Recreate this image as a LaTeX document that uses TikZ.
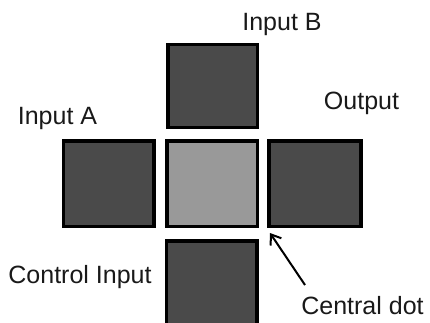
\documentclass[tikz,border=0pt]{standalone}
\usepackage{fontspec}
\setmainfont{Liberation Sans}
\usetikzlibrary{arrows.meta}
\definecolor{darkfill}{HTML}{4A4A4A}
\definecolor{lightfill}{HTML}{999999}
\tikzset{
  cell/.style={draw=black, line width=3.5pt, inner sep=0pt, outer sep=0pt,
    minimum width=90.5pt, minimum height=85.5pt, fill=darkfill},
  centercell/.style={cell, fill=lightfill},
  lbl/.style={inner sep=0pt, font=\fontsize{25}{29}\selectfont, text=black!90},
  pointer/.style={line width=2pt, -{Straight Barb[length=9pt,width=13pt,line width=2pt]}}
}
\begin{document}
\begin{tikzpicture}[x=1pt,y=1pt]
\useasboundingbox (0,0) rectangle (430,322);
\begin{scope}
\clip (0,0) rectangle (430,322);
\node[cell, minimum width=89.5pt, minimum height=82.5pt] (top) at (212.5,236) {};
\node[cell] (left) at (108.5,138.5) {};
\node[centercell] (center) at (212,138.5) {};
\node[cell, minimum width=92pt] (right) at (315,138.5) {};
\node[cell, minimum height=100pt] (bottom) at (211.5,31) {};
\end{scope}
\node[lbl] (inb) at (282,298) {Input B};
\node[lbl] (outl) at (361.5,219) {Output};
\node[lbl] (ina) at (57.5,204) {Input A};
\node[lbl] (ctrl) at (80,45) {Control Input};
\node[lbl] (cd) at (362.5,16) {Central dot};
\coordinate (tip) at (270,89);
\coordinate (tail) at (305,37);
\draw[pointer] (tail) -- (tip);
\end{tikzpicture}
\end{document}
